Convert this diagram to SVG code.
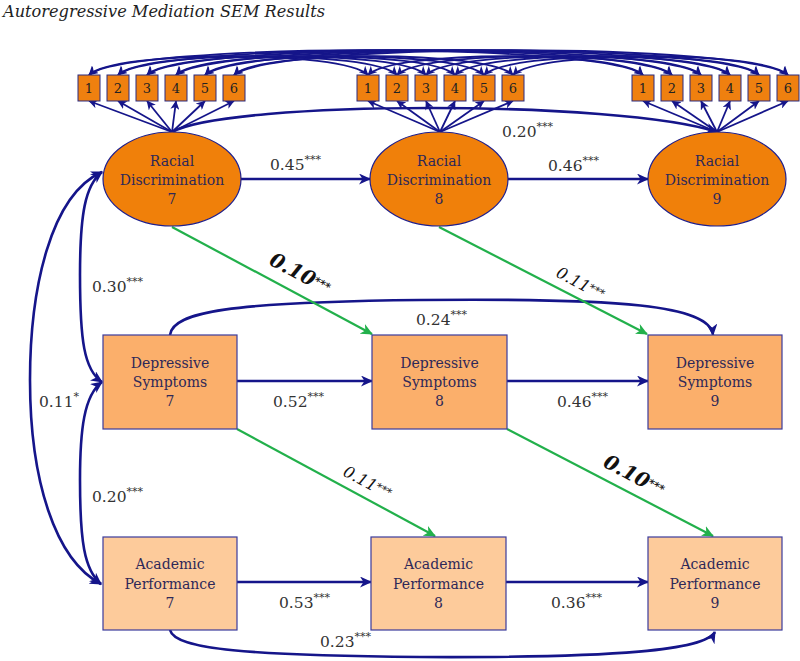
<svg xmlns="http://www.w3.org/2000/svg" width="800" height="661" viewBox="0 0 800 661">
<style>
text{font-family:"DejaVu Serif",serif}
.title{font-size:17px;font-style:italic;fill:#222}
.ind rect{fill:#EF800F;stroke:#2a2a80;stroke-width:1}
.ind text{font-size:13px;fill:#222;text-anchor:middle}
.rd ellipse{fill:#F0800A;stroke:#1f1f8c;stroke-width:1.2}
.ds rect{fill:#FBAF6B;stroke:#3b3b9c;stroke-width:1.2}
.ap rect{fill:#FDCB9B;stroke:#3b3b9c;stroke-width:1.2}
.node text{font-size:14px;fill:#2e2858;text-anchor:middle}
.nv{fill:none;stroke:#15158a;stroke-width:2.6}
.nvt{fill:none;stroke:#15158a;stroke-width:1.8}
.gr{fill:none;stroke:#22B04B;stroke-width:2.2}
.lbl{font-size:15.5px;fill:#333}
.sup{font-size:11px}
.gl{font-size:16px;font-style:italic;fill:#111}
.gb{font-size:20px;font-style:italic;font-weight:bold;fill:#111}
</style>
<defs>
<marker id="a" markerUnits="userSpaceOnUse" markerWidth="12" markerHeight="11" refX="11" refY="5.5" orient="auto-start-reverse" viewBox="0 0 12 11"><path d="M0,0 L12,5.5 L0,11 L3.5,5.5 Z" fill="#15158a"/></marker>
<marker id="s" markerUnits="userSpaceOnUse" markerWidth="9" markerHeight="9" refX="8.5" refY="4.5" orient="auto-start-reverse" viewBox="0 0 9 9"><path d="M0,0 L9,4.5 L0,9 L2.5,4.5 Z" fill="#15158a"/></marker>
<marker id="g" markerUnits="userSpaceOnUse" markerWidth="12" markerHeight="11" refX="11" refY="5.5" orient="auto" viewBox="0 0 12 11"><path d="M0,0 L12,5.5 L0,11 L3.5,5.5 Z" fill="#22B04B"/></marker>
</defs>
<text class="title" x="3" y="17" textLength="322" lengthAdjust="spacingAndGlyphs">Autoregressive Mediation SEM Results</text>

<g id="connectors">
<g class="nvt" marker-start="url(#s)" marker-end="url(#s)">
<path d="M89,75 C114,50 343,50 368,75"/>
<path d="M118,75 C143,50 372,50 397,75"/>
<path d="M147,75 C172,50 401,50 426,75"/>
<path d="M176,75 C201,50 430,50 455,75"/>
<path d="M205,75 C230,50 459,50 484,75"/>
<path d="M234,75 C259,50 488,50 513,75"/>
<path d="M368,75 C393,50 618,50 643,75"/>
<path d="M397,75 C422,50 647,50 672,75"/>
<path d="M426,75 C451,50 676,50 701,75"/>
<path d="M455,75 C480,50 705,50 730,75"/>
<path d="M484,75 C509,50 734,50 759,75"/>
<path d="M513,75 C538,50 763,50 788,75"/>
<path d="M89,75 C129,42 603,42 643,75"/>
<path d="M118,75 C158,42 632,42 672,75"/>
<path d="M147,75 C187,42 661,42 701,75"/>
<path d="M176,75 C216,42 690,42 730,75"/>
<path d="M205,75 C245,42 719,42 759,75"/>
<path d="M234,75 C274,42 748,42 788,75"/>
</g>
<g class="nvt" marker-end="url(#s)">
<path d="M172,132 L89,101"/><path d="M172,132 L118,101"/><path d="M172,132 L147,101"/><path d="M172,132 L176,101"/><path d="M172,132 L205,101"/><path d="M172,132 L234,101"/>
<path d="M440,132 L368,101"/><path d="M440,132 L397,101"/><path d="M440,132 L426,101"/><path d="M440,132 L455,101"/><path d="M440,132 L484,101"/><path d="M440,132 L513,101"/>
<path d="M717,132 L643,101"/><path d="M717,132 L672,101"/><path d="M717,132 L701,101"/><path d="M717,132 L730,101"/><path d="M717,132 L759,101"/><path d="M717,132 L788,101"/>
</g>
<path class="nv" d="M172,132 C230,100 620,100 717,132" marker-end="url(#a)"/>
<g class="nv" marker-end="url(#a)">
<path d="M241,179 L370,179"/>
<path d="M508,179 L648,179"/>
<path d="M237,381 L372,381"/>
<path d="M507,381 L648,381"/>
<path d="M237,582 L371,582"/>
<path d="M506,582 L648,582"/>
<path d="M170,335 C172,312 230,302 420,300 C620,298 710,305 713,335"/>
<path d="M170,630 C175,650 250,655 420,657 C620,658 705,650 715,632"/>
</g>
<g class="nv" marker-start="url(#a)" marker-end="url(#a)">
<path d="M102,172 C85,185 80,215 80,275 C80,340 84,370 102,382"/>
<path d="M102,382 C84,395 80,430 80,480 C80,540 84,570 101,584"/>
<path d="M102,172 C50,195 30,290 30,380 C30,480 55,560 101,584"/>
</g>
<g class="gr" marker-end="url(#g)">
<path d="M172,227 L372,334"/>
<path d="M439,227 L647,334"/>
<path d="M237,429 L435,536"/>
<path d="M507,429 L713,536"/>
</g>
</g>

<g id="indicators" class="ind">
<g id="i7"><rect x="78" y="75" width="22" height="26"/><text x="89" y="93">1</text><rect x="107" y="75" width="22" height="26"/><text x="118" y="93">2</text><rect x="136" y="75" width="22" height="26"/><text x="147" y="93">3</text><rect x="165" y="75" width="22" height="26"/><text x="176" y="93">4</text><rect x="194" y="75" width="22" height="26"/><text x="205" y="93">5</text><rect x="223" y="75" width="22" height="26"/><text x="234" y="93">6</text></g>
<g id="i8"><rect x="357" y="75" width="22" height="26"/><text x="368" y="93">1</text><rect x="386" y="75" width="22" height="26"/><text x="397" y="93">2</text><rect x="415" y="75" width="22" height="26"/><text x="426" y="93">3</text><rect x="444" y="75" width="22" height="26"/><text x="455" y="93">4</text><rect x="473" y="75" width="22" height="26"/><text x="484" y="93">5</text><rect x="502" y="75" width="22" height="26"/><text x="513" y="93">6</text></g>
<g id="i9"><rect x="632" y="75" width="22" height="26"/><text x="643" y="93">1</text><rect x="661" y="75" width="22" height="26"/><text x="672" y="93">2</text><rect x="690" y="75" width="22" height="26"/><text x="701" y="93">3</text><rect x="719" y="75" width="22" height="26"/><text x="730" y="93">4</text><rect x="748" y="75" width="22" height="26"/><text x="759" y="93">5</text><rect x="777" y="75" width="22" height="26"/><text x="788" y="93">6</text></g>
</g>

<g id="rd7" class="node rd"><ellipse cx="172" cy="179" rx="69" ry="47"/><text x="172" y="166">Racial</text><text x="172" y="185">Discrimination</text><text x="172" y="204">7</text></g>
<g id="rd8" class="node rd"><ellipse cx="439" cy="179" rx="69" ry="47"/><text x="439" y="166">Racial</text><text x="439" y="185">Discrimination</text><text x="439" y="204">8</text></g>
<g id="rd9" class="node rd"><ellipse cx="717" cy="179" rx="69" ry="47"/><text x="717" y="166">Racial</text><text x="717" y="185">Discrimination</text><text x="717" y="204">9</text></g>

<g id="ds7" class="node ds"><rect x="103" y="335" width="134" height="94"/><text x="170" y="368">Depressive</text><text x="170" y="387">Symptoms</text><text x="170" y="406">7</text></g>
<g id="ds8" class="node ds"><rect x="372" y="335" width="135" height="94"/><text x="439.5" y="368">Depressive</text><text x="439.5" y="387">Symptoms</text><text x="439.5" y="406">8</text></g>
<g id="ds9" class="node ds"><rect x="648" y="335" width="134" height="94"/><text x="715" y="368">Depressive</text><text x="715" y="387">Symptoms</text><text x="715" y="406">9</text></g>

<g id="ap7" class="node ap"><rect x="103" y="537" width="134" height="93"/><text x="170" y="569">Academic</text><text x="170" y="589">Performance</text><text x="170" y="608">7</text></g>
<g id="ap8" class="node ap"><rect x="371" y="537" width="135" height="93"/><text x="438.5" y="569">Academic</text><text x="438.5" y="589">Performance</text><text x="438.5" y="608">8</text></g>
<g id="ap9" class="node ap"><rect x="648" y="537" width="134" height="93"/><text x="715" y="569">Academic</text><text x="715" y="589">Performance</text><text x="715" y="608">9</text></g>

<g id="labels">
<text class="lbl" x="270" y="170">0.45<tspan class="sup" dy="-7">***</tspan></text>
<text class="lbl" x="548" y="171">0.46<tspan class="sup" dy="-7">***</tspan></text>
<text class="lbl" x="502" y="137">0.20<tspan class="sup" dy="-7">***</tspan></text>
<text class="lbl" x="92" y="292">0.30<tspan class="sup" dy="-7">***</tspan></text>
<text class="lbl" x="39" y="407">0.11<tspan class="sup" dy="-7">*</tspan></text>
<text class="lbl" x="92" y="502">0.20<tspan class="sup" dy="-7">***</tspan></text>
<text class="lbl" x="416" y="325">0.24<tspan class="sup" dy="-7">***</tspan></text>
<text class="lbl" x="273" y="407">0.52<tspan class="sup" dy="-7">***</tspan></text>
<text class="lbl" x="557" y="407">0.46<tspan class="sup" dy="-7">***</tspan></text>
<text class="lbl" x="279" y="608">0.53<tspan class="sup" dy="-7">***</tspan></text>
<text class="lbl" x="551" y="608">0.36<tspan class="sup" dy="-7">***</tspan></text>
<text class="lbl" x="320" y="647">0.23<tspan class="sup" dy="-7">***</tspan></text>
<text class="gb" x="268" y="264" transform="rotate(28 268 264)">0.10<tspan class="sup" dy="-4">***</tspan></text>
<text class="gl" x="555" y="276" transform="rotate(28 555 276)">0.11<tspan class="sup" dy="-3">***</tspan></text>
<text class="gl" x="342" y="475" transform="rotate(28 342 475)">0.11<tspan class="sup" dy="-3">***</tspan></text>
<text class="gb" x="602" y="466" transform="rotate(28 602 466)">0.10<tspan class="sup" dy="-4">***</tspan></text>
</g>
</svg>
